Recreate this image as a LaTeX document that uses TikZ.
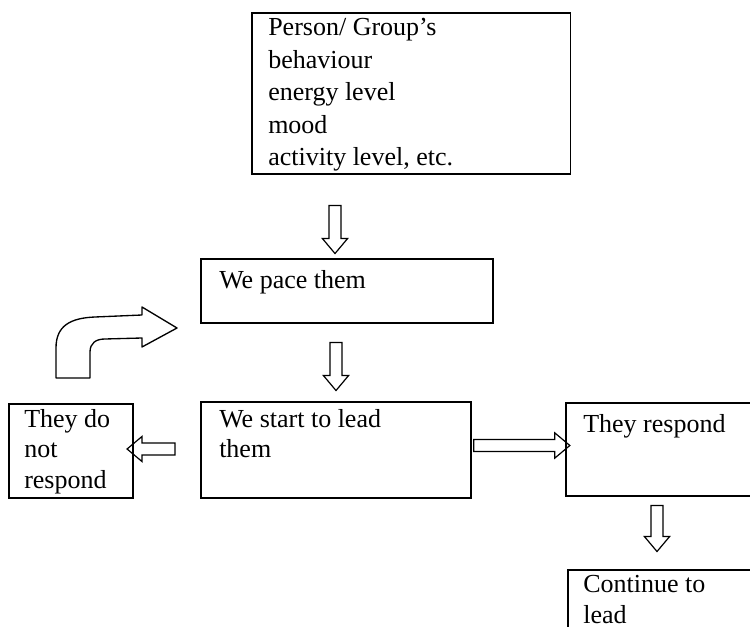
\documentclass[tikz,border=0pt]{standalone}
\usepackage{fontspec}
\setmainfont{Liberation Serif}
\usetikzlibrary{shapes, arrows, positioning, calc}
\tikzset{
    box/.style={
        rectangle, draw=black, line width=1.2pt, anchor=north west, inner sep=0pt
    },
    boxtext/.style={
        anchor=north west, align=left, inner sep=0pt,
        font=\fontsize{19.5}{24.4}\selectfont, execute at begin node=\strut
    },
    tighttext/.style={
        boxtext, font=\fontsize{19.5}{23}\selectfont
    },
    blockarrow/.style={
        single arrow, draw=black, line width=0.9pt, inner sep=4pt,
        minimum width=18pt, single arrow head extend=5pt,
        single arrow tip angle=80
    },
    bentarrow/.style={
        draw=black, line width=1pt, line join=round
    }
}

\begin{document}
\begin{tikzpicture}[x=0.75pt, y=-0.75pt]
        \clip (0,0) rectangle (750,627);
        % boxes
        \node [box, minimum width=239pt, minimum height=121pt] (person) at (251,12) {};
        \node [box, minimum width=219pt, minimum height=48pt] (pace) at (200,258) {};
        \node [box, minimum width=202.5pt, minimum height=72pt] (lead) at (200,401) {};
        \node [box, minimum width=93pt, minimum height=70.5pt] (noresp) at (8,403) {};
        \node [box, minimum width=190pt, minimum height=70pt] (resp) at (565,402) {};
        \node [box, minimum width=190pt, minimum height=80pt] (cont) at (567,569) {};
        % texts
        \node [boxtext] (person-t) at ($(person.north west)+(17,6)$) {Person/ Group's\\behaviour\\energy level\\mood\\activity level, etc.};
        \node [boxtext] (pace-t) at ($(pace.north west)+(19,7)$) {We pace them};
        \node [tighttext] (lead-t) at ($(lead.north west)+(19,8)$) {We start to lead\\them};
        \node [tighttext] (noresp-t) at ($(noresp.north west)+(16,6)$) {They do\\not\\respond};
        \node [boxtext] (resp-t) at ($(resp.north west)+(18,7)$) {They respond};
        \node [tighttext] (cont-t) at ($(cont.north west)+(16,6)$) {Continue to\\lead};
        % block arrows
        \node [blockarrow, shape border rotate=270, minimum height=36pt] (a1) at ($(pace.north west)+(135,-32)$) {};
        \node [blockarrow, shape border rotate=270, minimum height=36pt] (a2) at ($(lead.north west)+(136,-38)$) {};
        \node [blockarrow, shape border rotate=270, minimum height=34.5pt] (a3) at ($(cont.north west)+(90,-44)$) {};
        \node [blockarrow, shape border rotate=180, minimum height=36pt] (a4) at ($(noresp.north east)+(21,46)$) {};
        \node [blockarrow, minimum height=72pt] (a5) at ($($(lead.north east)!0.5!(resp.north west)$)+(0,44)$) {};
        % bent arrow back to pacing
        \draw [bentarrow] (56,378) -- (56,348) .. controls (56,326) and (70,318) .. (95,317)
            -- (142,315) -- (142,307) -- (177,328) -- (142,347) -- (142,338)
            -- (105,339) .. controls (96,339) and (90,343) .. (90,352) -- (90,378) -- cycle;
\end{tikzpicture}
\end{document}
